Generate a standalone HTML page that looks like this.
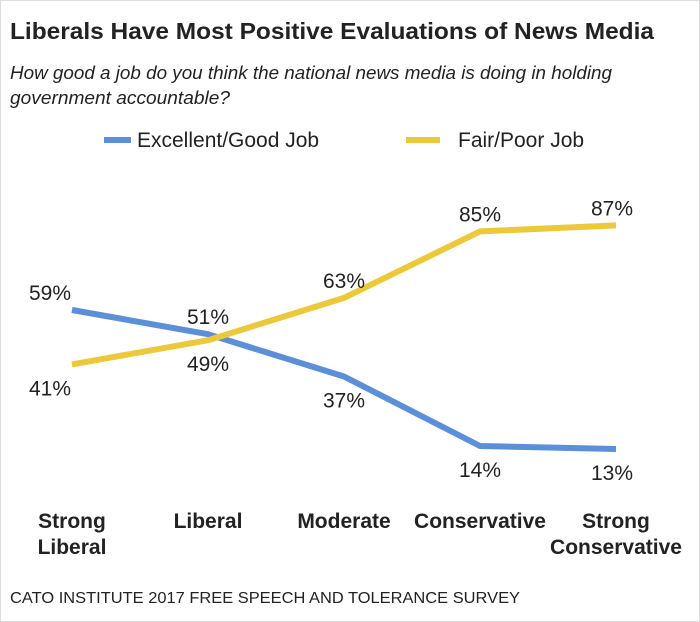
<!DOCTYPE html>
<html><head><meta charset="utf-8"><style>
body{margin:0;background:#fff;}
svg{display:block;font-family:"Liberation Sans",sans-serif;}
</style></head><body>
<svg width="700" height="622" viewBox="0 0 700 622">
<rect x="0.5" y="0.5" width="699" height="621" fill="#fff" stroke="#ddd"/>
<text x="10" y="39" font-size="23" font-weight="bold" fill="#222" textLength="644" lengthAdjust="spacingAndGlyphs">Liberals Have Most Positive Evaluations of News Media</text>
<text x="10" y="79" font-size="18.5" font-style="italic" fill="#222" textLength="602" lengthAdjust="spacingAndGlyphs">How good a job do you think the national news media is doing in holding</text>
<text x="10" y="104" font-size="18.5" font-style="italic" fill="#222" textLength="220" lengthAdjust="spacingAndGlyphs">government accountable?</text>
<g>
<line x1="104" y1="140" x2="131" y2="140" stroke="#5b8fd8" stroke-width="6"/>
<text x="137" y="147" font-size="21" fill="#222">Excellent/Good Job</text>
<line x1="406" y1="140" x2="440" y2="140" stroke="#ecc93a" stroke-width="6"/>
<text x="458" y="147" font-size="21" fill="#222">Fair/Poor Job</text>
</g>
<g id="plot"></g>
<text x="10" y="603" font-size="16" fill="#222" textLength="510" lengthAdjust="spacingAndGlyphs">CATO INSTITUTE 2017 FREE SPEECH AND TOLERANCE SURVEY</text>
</svg>
<script>
const categories=[["Strong","Liberal"],["Liberal"],["Moderate"],["Conservative"],["Strong","Conservative"]];
const excellent=[59,51,37,14,13];
const fair=[41,49,63,85,87];
const NS="http://www.w3.org/2000/svg";
const plot=document.getElementById('plot');
const xs=i=>72+i*136;
const ys=v=>488.3-v*3.022;
function el(t,a){const e=document.createElementNS(NS,t);for(const k in a)e.setAttribute(k,a[k]);plot.appendChild(e);return e;}
function series(vals,color,name,above){
  const l=el('polyline',{points:vals.map((v,i)=>xs(i)+','+ys(v)).join(' '),fill:'none',stroke:color,'stroke-width':6,'stroke-linejoin':'round'});
  
  
  vals.forEach((v,i)=>{
    const up=above[i];
    const t=el('text',{x:xs(i)+(i==0?-22:(i==4?-4:0)),y:ys(v)+(up?-10:31),'font-size':21,'text-anchor':'middle',fill:'#222'});
    t.textContent=v+'%';
    
    
  });
}
series(excellent,'#5b8fd8','excellent',[true,true,false,false,false]);
series(fair,'#ecc93a','fair',[false,false,true,true,true]);
categories.forEach((c,i)=>{
  c.forEach((s,j)=>{
    const t=el('text',{x:xs(i),y:528+j*26,'font-size':21,'font-weight':'bold','text-anchor':'middle',fill:'#222'});
    t.textContent=s;
    
    
  });
});
</script>
</body></html>
